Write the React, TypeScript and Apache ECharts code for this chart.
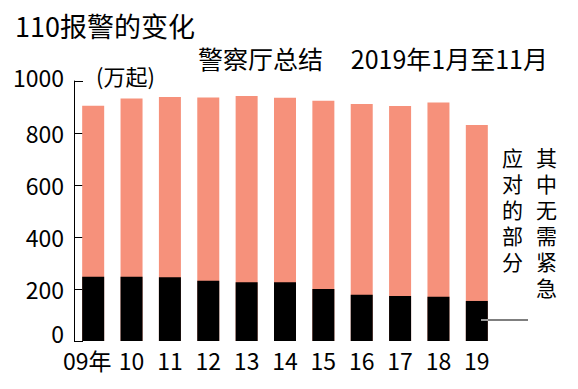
import React, { useEffect, useRef } from "react";
import * as echarts from "echarts";

const years = ["09年", "10", "11", "12", "13", "14", "15", "16", "17", "18", "19"];
const totalCalls = [905, 933, 938, 937, 942, 936, 924, 912, 904, 917, 831];
const nonUrgentCalls = [247, 247, 245, 232, 226, 226, 200, 178, 173, 170, 154];
const yTicks = [0, 200, 400, 600, 800, 1000];

const FONT = '"Noto Sans CJK SC", "Noto Sans", sans-serif';
const SALMON = "#F6917B";

export default function App() {
  const ref = useRef<HTMLDivElement>(null);
  useEffect(() => {
    if (!ref.current) return;
    const chart = echarts.init(ref.current, null, { renderer: "svg" });
    const lastTick = yTicks[yTicks.length - 1];
    chart.setOption({
      animation: false,
      backgroundColor: "#ffffff",
      grid: { left: 74, right: 82, top: 81, bottom: 48 },
      xAxis: {
        type: "category",
        data: years,
        axisLine: { show: false },
        axisTick: { show: false },
        axisLabel: {
          color: "#000",
          fontSize: 23,
          fontFamily: FONT,
          margin: 7,
          interval: 0,
          formatter: (v: string, i: number) => (i === 0 ? `{first|${v}}` : v),
          rich: {
            first: { color: "#000", fontSize: 23, fontFamily: FONT, padding: [0, 12, 0, 0] },
          },
        },
      },
      yAxis: {
        type: "value",
        min: yTicks[0],
        max: lastTick,
        interval: 200,
        splitLine: { show: false },
        axisLine: { show: true, lineStyle: { color: "#000", width: 1 } },
        axisTick: { show: true, inside: true, length: 9, lineStyle: { color: "#000", width: 1 } },
        axisLabel: {
          color: "#000",
          fontSize: 23,
          fontFamily: FONT,
          margin: 10,
          formatter: (v: number) =>
            v === yTicks[0] ? `{low|${v}}` : v === lastTick ? `{high|${v}}` : String(v),
          rich: {
            low: { color: "#000", fontSize: 23, fontFamily: FONT, padding: [0, 0, 16, 0] },
            high: { color: "#000", fontSize: 23, fontFamily: FONT, padding: [0, 0, 8, 0] },
          },
        },
      },
      series: [
        {
          type: "bar",
          data: totalCalls,
          barWidth: 22,
          barGap: "-100%",
          itemStyle: { color: SALMON },
          z: 1,
        },
        {
          type: "bar",
          data: nonUrgentCalls,
          barWidth: 22,
          itemStyle: { color: "#000" },
          z: 2,
        },
      ],
      graphic: [
        {
          type: "text",
          left: 15,
          top: 12,
          style: { text: "110报警的变化", fontSize: 27, fontFamily: FONT, fill: "#000" },
        },
        {
          type: "text",
          left: 198,
          top: 45,
          style: { text: "警察厅总结", fontSize: 25, fontFamily: FONT, fill: "#000" },
        },
        {
          type: "text",
          right: 30,
          top: 45,
          style: { text: "2019年1月至11月", fontSize: 25, fontFamily: FONT, fill: "#000" },
        },
        {
          type: "text",
          left: 96,
          top: 64,
          style: { text: "(万起)", fontSize: 22, fontFamily: FONT, fill: "#000" },
        },
        {
          type: "text",
          left: 502,
          top: 144,
          style: { text: "应\n对\n的\n部\n分", fontSize: 21, lineHeight: 26, fontFamily: FONT, fill: "#000" },
        },
        {
          type: "text",
          left: 536,
          top: 144,
          style: { text: "其\n中\n无\n需\n紧\n急", fontSize: 21, lineHeight: 26, fontFamily: FONT, fill: "#000" },
        },
        {
          type: "line",
          shape: { x1: 481, y1: 320, x2: 488, y2: 320 },
          style: { stroke: "#fff", lineWidth: 1.2 },
          z: 10,
        },
        {
          type: "line",
          shape: { x1: 488, y1: 320, x2: 528, y2: 320 },
          style: { stroke: "#000", lineWidth: 1.2 },
          z: 10,
        },
      ],
    });
    return () => chart.dispose();
  }, []);
  return <div ref={ref} style={{ width: 578, height: 389, position: "absolute", left: 0, top: 0 }} />;
}
